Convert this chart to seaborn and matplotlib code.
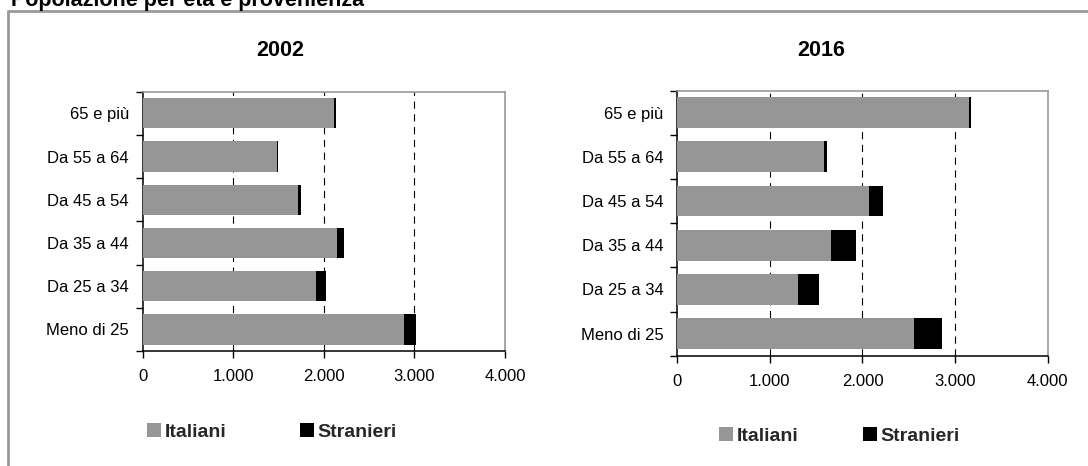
import matplotlib
matplotlib.use("Agg")
import matplotlib.pyplot as plt
import seaborn as sns
import pandas as pd
from matplotlib.patches import Patch
from matplotlib.lines import Line2D

# ---------------- data ----------------
categories = ["65 e più", "Da 55 a 64", "Da 45 a 54", "Da 35 a 44", "Da 25 a 34", "Meno di 25"]
italiani_2002 = [2115, 1480, 1710, 2150, 1910, 2885]
stranieri_2002 = [20, 18, 40, 72, 113, 130]
italiani_2016 = [3145, 1585, 2070, 1655, 1300, 2557]
stranieri_2016 = [30, 35, 150, 280, 225, 300]
x_ticks = [0, 1000, 2000, 3000, 4000]
x_tick_labels = ["0", "1.000", "2.000", "3.000", "4.000"]
grid_values = [1000, 2000, 3000]
years = ["2002", "2016"]
series_names = ["Italiani", "Stranieri"]
main_title = "Popolazione per età e provenienza"

# ---------------- style ----------------
sns.set_theme(style="white")
plt.rcParams['font.family'] = ['Liberation Sans', 'DejaVu Sans']

W, H = 1088, 466
fig = plt.figure(figsize=(W / 100, H / 100), dpi=100)

GRAY = "#969696"
FRAME = "#999999"
TICK_FS = 12
LEG_FS = 14
TITLE_FS = 15.5


def px_rect(x0, x1, top, bottom):
    return [x0 / W, (H - bottom) / H, (x1 - x0) / W, (bottom - top) / H]


panels = [
    dict(year=years[0], ital=italiani_2002, stran=stranieri_2002,
         rect=px_rect(142.7, 505, 91.7, 351), title_x=280, title_y=51,
         leg_x=147, leg_y=432, colsp=3.78),
    dict(year=years[1], ital=italiani_2016, stran=stranieri_2016,
         rect=px_rect(677.3, 1047.7, 90.5, 355.7), title_x=821, title_y=51,
         leg_x=719, leg_y=436, colsp=3.32),
]

for p in panels:
    ax = fig.add_axes(p["rect"])
    df = pd.DataFrame({
        "Età": categories,
        "Italiani": p["ital"],
        "Totale": [a + b for a, b in zip(p["ital"], p["stran"])],
    })
    sns.barplot(data=df, y="Età", x="Totale", color="black", width=0.7,
                errorbar=None, saturation=1, orient="h", ax=ax, zorder=2)
    sns.barplot(data=df, y="Età", x="Italiani", color=GRAY, width=0.7,
                errorbar=None, saturation=1, orient="h", ax=ax, zorder=3)
    for bar in ax.patches:
        bar.set_edgecolor("none")

    for g in grid_values:
        ax.axvline(g, color="black", lw=0.8, linestyle=(0, (6.5, 5)), zorder=1)

    ax.set_xlim(0, 4000)
    ax.set_ylim(len(categories) - 0.5, -0.5)
    ax.set_xticks(x_ticks)
    ax.set_xticklabels(x_tick_labels, fontsize=TICK_FS, color="black")
    ax.set_yticks(range(len(categories)))
    ax.set_yticklabels(categories, fontsize=TICK_FS, color="black")
    ax.set_yticks([i - 0.5 for i in range(len(categories) + 1)], minor=True)
    ax.tick_params(axis="y", which="major", length=0, pad=10, left=False)
    ax.tick_params(axis="y", which="minor", length=5, width=1, color="black",
                   direction="out", left=True)
    ax.tick_params(axis="x", which="major", length=5, width=1, color="black",
                   direction="out", bottom=True, pad=8)
    ax.set_xlabel("")
    ax.set_ylabel("")

    for s in ["left", "bottom"]:
        ax.spines[s].set_color("black")
        ax.spines[s].set_linewidth(1.1)
    for s in ["top", "right"]:
        ax.spines[s].set_color(FRAME)
        ax.spines[s].set_linewidth(1.2)
        ax.spines[s].set_visible(True)

    fig.text(p["title_x"] / W, 1 - p["title_y"] / H, p["year"], ha="center",
             va="center", fontsize=TITLE_FS, fontweight="bold", color="black")

    handles = [Patch(facecolor=GRAY, edgecolor="none"),
               Patch(facecolor="black", edgecolor="none")]
    sq = 10.0 / LEG_FS
    fig.legend(handles, series_names, loc="center left",
               bbox_to_anchor=(p["leg_x"] / W, 1 - p["leg_y"] / H),
               ncol=2, frameon=False,
               prop={"weight": "bold", "size": LEG_FS},
               handlelength=sq, handleheight=sq, handletextpad=0.2,
               columnspacing=p["colsp"], borderpad=0, borderaxespad=0)

# outer frame (extends beyond the image on the right and bottom)
fig.add_artist(Line2D([8 / W, 8 / W], [0, 1 - 11 / H], color=FRAME, lw=2,
                      transform=fig.transFigure))
fig.add_artist(Line2D([8 / W, 1], [1 - 11 / H, 1 - 11 / H], color=FRAME, lw=2,
                      transform=fig.transFigure))

fig.text(11 / W, 1 - 6 / H, main_title, ha="left", va="baseline",
         fontsize=TITLE_FS, fontweight="bold", color="black")

fig.savefig("out.png", dpi=100)
